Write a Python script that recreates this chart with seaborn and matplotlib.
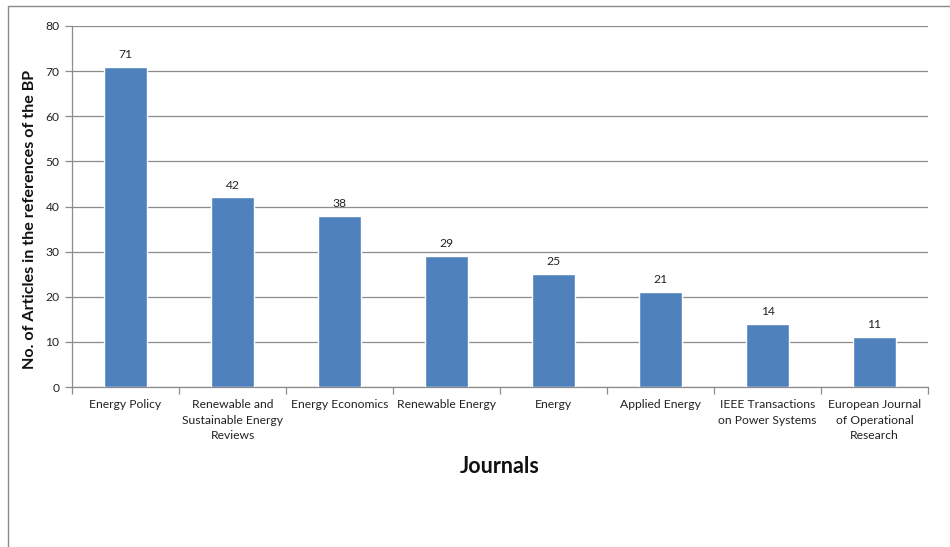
import matplotlib
matplotlib.use("Agg")
import matplotlib.pyplot as plt
import seaborn as sns
import pandas as pd
import numpy as np
from matplotlib.patches import Rectangle

journals = ["Energy Policy", "Renewable and\nSustainable Energy\nReviews", "Energy Economics",
            "Renewable Energy", "Energy", "Applied Energy",
            "IEEE Transactions\non Power Systems", "European Journal\nof Operational\nResearch"]
counts = [71, 42, 38, 29, 25, 21, 14, 11]
yticks = [0, 10, 20, 30, 40, 50, 60, 70, 80]

sns.set_theme(style="white")
plt.rcParams['font.family'] = ['Lato', 'DejaVu Sans']

df = pd.DataFrame({"journal": journals, "count": counts})

fig = plt.figure(figsize=(9.5, 5.47), dpi=100)
ax = fig.add_axes([72/950, 1-387/547, (928-72)/950, (387-26)/547])

sns.barplot(data=df, x="journal", y="count", color="#4F81BD", saturation=1,
            width=0.4, ax=ax, zorder=3)

ax.set_ylim(0, 80)
ax.set_xlim(-0.5, len(journals)-0.5)
ax.set_yticks(yticks)
ax.yaxis.grid(True, color="#8c8c8c", linewidth=0.9, zorder=0)
ax.set_axisbelow(True)

for s in ["top", "right"]:
    ax.spines[s].set_visible(False)
for s in ["left", "bottom"]:
    ax.spines[s].set_color("#8c8c8c")
    ax.spines[s].set_linewidth(0.9)

ax.tick_params(axis="y", which="major", length=5, color="#8c8c8c", width=0.9,
               labelsize=8.7, labelcolor="#222222", left=True, pad=4)
ax.tick_params(axis="x", which="major", length=0, labelsize=8.7, labelcolor="#222222", pad=9)
ax.set_xticks(np.arange(-0.5, len(journals)), minor=True)
ax.tick_params(axis="x", which="minor", length=5, color="#8c8c8c", width=0.9, bottom=True)
for lab in ax.get_xticklabels():
    lab.set_verticalalignment("top")
    lab.set_linespacing(1.45)

for i, v in enumerate(counts):
    ax.annotate(str(v), (i, v), xytext=(0, 5), textcoords="offset points",
                ha="center", va="bottom", fontsize=8.7, color="#222222")

ax.set_ylabel("No. of Articles in the references of the BP", fontsize=11.6,
              fontweight="bold", color="#111111")
ax.yaxis.set_label_coords(-0.041, 0.465)
ax.set_xlabel("Journals", fontsize=15.5, fontweight="bold", color="#111111", labelpad=11)

fig.patches.append(Rectangle((8/950, -0.1), 1.0, 1 - 6/547 + 0.1, transform=fig.transFigure,
                             fill=False, edgecolor="#8a8a8a", linewidth=1.0))

fig.savefig("out.png", dpi=100)
